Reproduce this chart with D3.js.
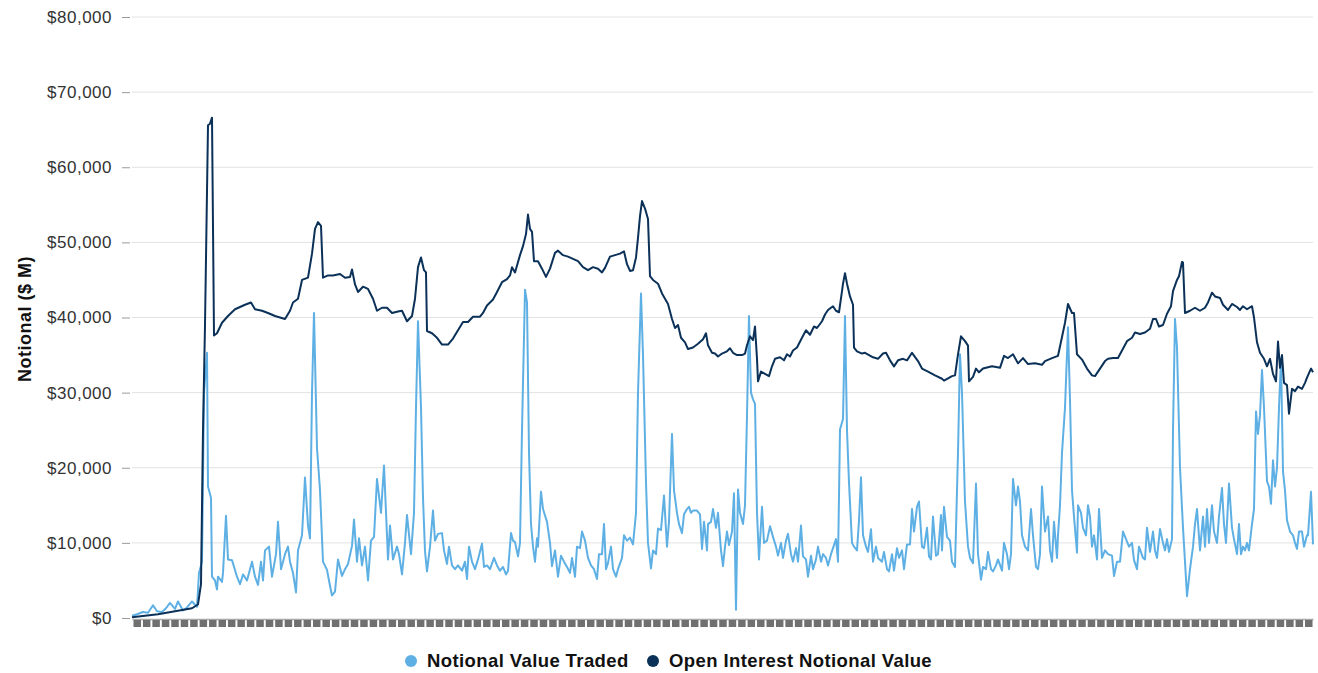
<!DOCTYPE html>
<html>
<head>
<meta charset="utf-8">
<script src="https://cdn.jsdelivr.net/npm/d3@7/dist/d3.min.js"></script>
<style>
  html, body { margin: 0; padding: 0; background: #ffffff; }
  svg { display: block; font-family: "Liberation Sans", Arial, sans-serif; }
</style>
</head>
<body>
<svg id="chart" width="1318" height="673"></svg>
<script>
// ---- DATA (time index, $ M) ----
const seriesNames = ["Notional Value Traded", "Open Interest Notional Value"];
const yTicks = [0, 10000, 20000, 30000, 40000, 50000, 60000, 70000, 80000];
const periodCount = 1181;

const traded = [
[0,300],[5,500],[11,800],[16,700],[21,1700],[25,900],[30,800],[34,1300],[38,2000],[43,1200],[46,2200],[51,1000],[55,1400],[60,2200],[65,1500],[67,6000],[70,7500],[72,30000],[75,35300],[76,17500],[79,16000],[80,5500],[83,5000],[85,3800],[86,5500],[90,4800],[91,6000],[94,13600],[96,7800],[100,7700],[105,5500],[108,4500],[111,5800],[115,5000],[120,7500],[123,5500],[126,4400],[129,7500],[131,5000],[133,9000],[137,9500],[140,5500],[144,8500],[146,12800],[149,6500],[153,8500],[156,9500],[158,7500],[161,6000],[164,3400],[166,9000],[170,11000],[173,18700],[176,12300],[178,10600],[180,30000],[182,40600],[185,22600],[188,17000],[191,7500],[195,6400],[198,4300],[200,3000],[203,3500],[206,7800],[210,5600],[213,6500],[216,7200],[220,9600],[222,13100],[225,7500],[227,10600],[230,7000],[233,9500],[236,5000],[239,10300],[242,10800],[245,18500],[249,14000],[252,20300],[255,11000],[256,7800],[258,12300],[261,7800],[265,9500],[267,8500],[270,5800],[273,10000],[275,13700],[279,8500],[282,14000],[284,28000],[286,39500],[289,28000],[291,16000],[293,8900],[295,6200],[298,9500],[301,14300],[303,10300],[306,11200],[310,11300],[312,9000],[315,7200],[317,9500],[320,7000],[323,6500],[326,7000],[330,6300],[333,7500],[335,5200],[337,9500],[340,7500],[343,6500],[346,7800],[350,9900],[352,6800],[355,7000],[358,6500],[362,8000],[365,7000],[368,6300],[371,6800],[374,5800],[376,6300],[379,11300],[381,10300],[383,10100],[386,8200],[388,10000],[390,25000],[393,43700],[395,42000],[397,22000],[399,12500],[401,9500],[403,7500],[405,10600],[406,9500],[409,16800],[411,14500],[415,12800],[418,10000],[420,6900],[423,9000],[426,5500],[429,8300],[432,7500],[435,6800],[438,6000],[440,8000],[443,5500],[445,9500],[448,9300],[450,11500],[453,10300],[456,8000],[459,7000],[462,6500],[465,5200],[467,8500],[470,8500],[472,12500],[474,6500],[476,7300],[479,9500],[481,6500],[484,5500],[486,6500],[490,8000],[492,11000],[495,10300],[498,10700],[501,9800],[504,14000],[506,30000],[509,43200],[511,35000],[514,18000],[516,10000],[519,6600],[521,9000],[524,8500],[526,11900],[529,11700],[532,16300],[535,9500],[537,12800],[540,24500],[542,17000],[545,14000],[547,12500],[550,11300],[552,13800],[555,14500],[557,14800],[559,14000],[561,14300],[565,14300],[568,13800],[570,9200],[572,12800],[575,9000],[576,12500],[579,12800],[581,14500],[584,12000],[586,14000],[589,9000],[591,6900],[593,9500],[595,11500],[597,9700],[600,11500],[602,16600],[604,1100],[606,17100],[608,14000],[611,12500],[613,15000],[615,27000],[617,40200],[619,30000],[621,29100],[623,28500],[625,14000],[627,7800],[630,14800],[632,10000],[635,10300],[638,12200],[641,10800],[644,9500],[646,8300],[649,10000],[651,8000],[654,10300],[656,11200],[659,8500],[661,7500],[664,9300],[666,7500],[669,12300],[671,8200],[674,7800],[676,5500],[679,8300],[681,6500],[684,7800],[686,9500],[689,7500],[691,8500],[694,8000],[696,7000],[699,8500],[701,9300],[704,10500],[706,7500],[708,25100],[711,26500],[713,40200],[715,25000],[717,18000],[720,10000],[722,9500],[725,9000],[727,13000],[729,18750],[731,11000],[734,9500],[736,8800],[739,11800],[741,7500],[744,9500],[746,8000],[750,7500],[752,8800],[755,6500],[757,6200],[760,8500],[762,6300],[765,9300],[767,8000],[770,9000],[772,6500],[775,9800],[778,9800],[780,14500],[782,11500],[785,14800],[787,15500],[790,9500],[792,9300],[795,12000],[797,8200],[799,7800],[801,13500],[804,8300],[806,8500],[809,13700],[810,9000],[812,14800],[815,10800],[818,10300],[820,7500],[823,6800],[826,22000],[828,35100],[830,30000],[833,15500],[836,9500],[838,8000],[841,7300],[844,17900],[846,8500],[849,5100],[851,6800],[854,6500],[856,8800],[859,6500],[861,6200],[864,7000],[866,7800],[870,6300],[872,10000],[875,8500],[877,6500],[879,8500],[881,18500],[884,15000],[886,17500],[888,15500],[890,11000],[893,9500],[896,9000],[899,14500],[901,11000],[904,6800],[906,6500],[908,8500],[910,17500],[913,11500],[916,13500],[918,9000],[920,7500],[922,12800],[925,8000],[926,11000],[928,15000],[930,22000],[933,28000],[936,38700],[938,29000],[940,17000],[942,13500],[945,8700],[946,15000],[949,14000],[951,12000],[954,11000],[956,15000],[958,13500],[960,9500],[962,11000],[965,7800],[967,14500],[970,8000],[973,9000],[976,8500],[980,8300],[982,5600],[985,7500],[988,7500],[991,11500],[994,10500],[997,9500],[1000,10000],[1002,7700],[1005,6500],[1007,9500],[1011,8000],[1013,7800],[1015,12000],[1018,8800],[1021,11500],[1023,9000],[1025,8000],[1028,11850],[1031,10000],[1033,9000],[1035,10500],[1037,8800],[1040,10500],[1041,25000],[1043,39800],[1045,36000],[1048,20000],[1051,12000],[1053,7500],[1055,2900],[1058,6500],[1061,9500],[1063,12500],[1065,14500],[1068,9000],[1071,13500],[1073,9500],[1075,14500],[1077,10000],[1080,15000],[1082,11500],[1085,10000],[1087,13500],[1090,17300],[1092,12500],[1094,10000],[1097,17900],[1100,12000],[1102,10500],[1105,8500],[1107,12500],[1109,8500],[1111,9500],[1113,9000],[1115,10000],[1117,9000],[1120,12500],[1122,14500],[1124,27500],[1126,24500],[1128,27000],[1130,33000],[1132,28000],[1135,18200],[1137,17500],[1139,15200],[1141,21000],[1143,17500],[1145,20000],[1147,28000],[1149,34500],[1151,19500],[1153,17000],[1155,13000],[1158,11500],[1161,11000],[1163,10000],[1165,9200],[1167,11500],[1170,11500],[1172,9500],[1175,11000],[1176,11000],[1179,16800],[1181,9800]
];

const openInterest = [
[0,100],[26,500],[43,900],[60,1300],[66,1800],[69,4500],[71,25000],[73,39000],[76,65600],[78,65800],[80,66600],[82,37600],[85,37900],[90,39300],[96,40200],[103,41100],[108,41400],[113,41700],[119,42000],[123,41100],[130,40900],[136,40600],[143,40200],[153,39800],[158,40900],[161,42000],[166,42500],[170,45000],[176,45300],[180,48500],[183,51800],[186,52700],[189,52200],[191,45300],[196,45600],[201,45600],[208,45800],[213,45300],[218,45400],[220,46400],[223,44400],[226,43400],[231,44100],[236,43800],[241,42500],[245,40900],[250,41300],[255,41300],[260,40600],[266,40800],[270,40900],[275,39500],[280,40200],[283,42500],[286,46700],[289,48000],[292,46300],[294,46000],[295,38200],[300,37900],[305,37300],[310,36400],[316,36400],[321,37200],[326,38300],[331,39400],[336,39400],[341,40100],[348,40100],[351,40600],[355,41600],[358,42000],[361,42400],[365,43400],[370,44700],[375,45100],[378,45600],[380,46700],[383,46000],[388,48300],[391,49500],[394,51100],[396,53700],[398,51800],[400,51400],[402,47500],[406,47500],[410,46500],[414,45400],[418,46500],[423,48600],[426,48900],[431,48300],[436,48100],[441,47800],[446,47500],[451,46700],[456,46300],[461,46700],[466,46500],[470,46000],[473,46600],[478,48100],[483,48300],[488,48500],[492,48800],[495,47100],[498,46200],[501,46300],[504,48000],[506,50600],[508,53500],[510,55500],[513,54500],[516,53100],[518,45500],[521,45000],[526,44500],[530,43200],[533,42500],[536,41800],[540,39800],[543,38600],[546,39000],[549,37300],[553,36700],[556,35800],[561,36000],[566,36500],[571,37100],[574,37900],[576,36300],[580,35300],[583,35200],[586,34800],[590,35200],[595,35500],[598,35900],[601,35300],[605,35000],[610,35000],[613,35200],[615,36300],[618,37500],[621,37000],[623,38800],[625,34500],[626,31500],[629,32800],[633,32500],[637,32200],[640,33500],[643,34500],[648,34700],[652,34300],[655,35100],[658,34800],[661,35600],[665,36000],[670,37300],[674,38300],[678,37700],[682,38800],[685,38600],[690,39500],[693,40400],[696,41000],[701,41500],[704,40900],[707,40700],[710,43500],[711,44500],[713,45900],[715,44500],[718,42800],[721,41700],[722,36000],[725,35500],[730,35200],[733,35300],[737,35000],[741,34700],[746,34500],[751,35200],[754,35300],[758,34300],[762,33500],[766,34300],[771,34500],[775,34300],[780,35300],[786,34200],[790,33200],[796,32800],[803,32300],[810,31850],[812,31600],[820,32200],[823,32300],[826,35100],[829,37500],[833,36850],[836,36250],[837,31500],[841,32100],[844,33200],[847,32700],[851,33200],[860,33500],[868,33300],[872,34900],[876,34600],[881,35100],[886,33900],[891,34600],[896,33800],[903,33900],[910,33700],[913,34200],[920,34600],[926,34900],[930,37400],[933,39300],[936,41800],[940,40600],[942,40600],[945,35100],[950,34400],[955,33200],[960,32300],[963,32200],[968,33200],[973,34200],[976,34500],[981,34600],[986,34600],[990,35600],[995,36850],[1000,37300],[1003,38000],[1008,37800],[1013,38000],[1018,38500],[1021,39800],[1024,39800],[1027,38800],[1031,39000],[1035,40500],[1039,41500],[1041,43500],[1045,45000],[1047,45500],[1050,47400],[1051,47300],[1053,40600],[1058,40900],[1063,41300],[1068,40900],[1073,41300],[1076,42000],[1080,43300],[1083,42800],[1088,42600],[1091,41700],[1096,41000],[1100,41800],[1105,41400],[1108,41000],[1111,41500],[1115,41100],[1120,41500],[1122,40000],[1125,36700],[1128,35300],[1132,34500],[1135,33500],[1138,34500],[1141,32500],[1144,31500],[1146,36800],[1148,33300],[1150,35000],[1152,31300],[1155,31000],[1157,27200],[1160,30500],[1163,30200],[1166,30800],[1170,30500],[1173,31300],[1175,32000],[1179,33200],[1181,32700]
];

// ---- LAYOUT ----
const plot = { left: 132, right: 1313, top: 17, bottom: 618 };
const colors = { traded: "#5eb0e4", oi: "#0b3158" };

const svg = d3.select("#chart");

const x = d3.scaleLinear().domain([0, periodCount]).range([plot.left, plot.right]);
const y = d3.scaleLinear().domain([0, 80000]).range([plot.bottom, plot.top]);

// gridlines
svg.append("g")
  .selectAll("line")
  .data(yTicks.filter(d => d > 0))
  .join("line")
  .attr("x1", plot.left).attr("x2", plot.right)
  .attr("y1", d => y(d)).attr("y2", d => y(d))
  .attr("stroke", "#e2e2e2").attr("stroke-width", 1);

// y axis
const yAxis = d3.axisLeft(y)
  .tickValues(yTicks)
  .tickFormat(d => "$" + d3.format(",")(d))
  .tickSize(8)
  .tickPadding(10);
const gy = svg.append("g")
  .attr("transform", `translate(${plot.left - 2},0)`)
  .call(yAxis);
gy.select(".domain").remove();
gy.selectAll(".tick line").attr("stroke", "#9a9a9a");
gy.selectAll(".tick text")
  .attr("fill", "#333")
  .style("font-size", "17px")
  .style("letter-spacing", "0.5px")
  .style("font-family", "'Liberation Sans', Arial, sans-serif");

// x axis: dense tick blocks
const nTicks = 125;
const step = periodCount / nTicks;
const xTickVals = d3.range(nTicks).map(i => (i + 0.5) * step);
const xAxis = d3.axisBottom(x)
  .tickValues(xTickVals)
  .tickFormat("")
  .tickSize(8)
  .tickSizeOuter(0);
const gx = svg.append("g")
  .attr("transform", `translate(0,${plot.bottom + 1})`)
  .call(xAxis);
gx.select(".domain").attr("stroke", "#a8a8a8").attr("stroke-width", 1.5);
gx.selectAll(".tick line").attr("stroke", "#707070").attr("stroke-width", 7.5)
  .attr("y1", 1);

// lines
const line = d3.line().x(d => x(d[0])).y(d => y(d[1]));
svg.append("path")
  .datum(traded)
  .attr("fill", "none")
  .attr("stroke", colors.traded)
  .attr("stroke-width", 2)
  .attr("stroke-linejoin", "round")
  .attr("d", line);
svg.append("path")
  .datum(openInterest)
  .attr("fill", "none")
  .attr("stroke", colors.oi)
  .attr("stroke-width", 2)
  .attr("stroke-linejoin", "round")
  .attr("d", line);

// y title
svg.append("text")
  .attr("transform", "translate(31,319) rotate(-90)")
  .attr("text-anchor", "middle")
  .attr("fill", "#111")
  .style("font-size", "18px")
  .style("letter-spacing", "0.5px")
  .style("font-weight", "bold")
  .text("Notional ($ M)");

// legend
const legend = [
  { name: seriesNames[0], color: colors.traded, cx: 411 },
  { name: seriesNames[1], color: colors.oi, cx: 653 }
];
const lg = svg.append("g");
legend.forEach(l => {
  lg.append("circle").attr("cx", l.cx).attr("cy", 661).attr("r", 6).attr("fill", l.color);
  lg.append("text").attr("x", l.cx + 16).attr("y", 667)
    .attr("fill", "#111")
    .style("font-size", "18.5px").style("font-weight", "bold")
    .style("letter-spacing", "0.4px")
    .text(l.name);
});
</script>
</body>
</html>
